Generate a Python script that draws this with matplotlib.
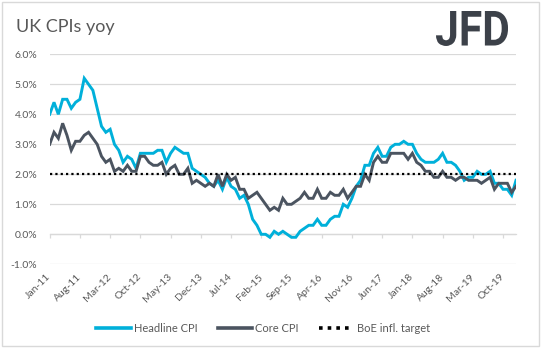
import matplotlib
matplotlib.use('Agg')
import matplotlib.pyplot as plt
import pandas as pd
from matplotlib.textpath import TextPath
from matplotlib.patches import PathPatch, Rectangle
from matplotlib.transforms import Affine2D, IdentityTransform
from matplotlib.font_manager import FontProperties

plt.rcParams['font.family'] = ['Lato', 'DejaVu Sans']

# monthly, Jan-11 .. Jan-20
months = pd.date_range('2011-01-01', '2020-01-01', freq='MS')
headline = [4.0, 4.4, 4.0, 4.5, 4.5, 4.2, 4.4, 4.5, 5.2, 5.0, 4.8, 4.2,
            3.6, 3.4, 3.5, 3.0, 2.8, 2.4, 2.6, 2.5, 2.2, 2.7, 2.7, 2.7,
            2.7, 2.8, 2.8, 2.4, 2.7, 2.9, 2.8, 2.7, 2.7, 2.2, 2.1, 2.0,
            1.9, 1.7, 1.6, 1.8, 1.5, 1.9, 1.6, 1.5, 1.2, 1.3, 1.0, 0.5,
            0.3, 0.0, 0.0, -0.1, 0.1, 0.0, 0.1, 0.0, -0.1, -0.1, 0.1, 0.2,
            0.3, 0.3, 0.5, 0.3, 0.3, 0.5, 0.6, 0.6, 1.0, 0.9, 1.2, 1.6,
            1.8, 2.3, 2.3, 2.7, 2.9, 2.6, 2.6, 2.9, 3.0, 3.0, 3.1, 3.0,
            3.0, 2.7, 2.5, 2.4, 2.4, 2.4, 2.5, 2.7, 2.4, 2.4, 2.3, 2.1,
            1.8, 1.9, 1.9, 2.1, 2.0, 2.0, 2.1, 1.7, 1.7, 1.5, 1.5, 1.3,
            1.8]
core = [3.0, 3.4, 3.2, 3.7, 3.3, 2.8, 3.1, 3.1, 3.3, 3.4, 3.2, 3.0,
        2.6, 2.4, 2.5, 2.1, 2.2, 2.1, 2.3, 2.1, 2.1, 2.6, 2.6, 2.4,
        2.3, 2.3, 2.4, 2.0, 2.2, 2.3, 2.0, 2.0, 2.2, 1.7, 1.8, 1.7,
        1.6, 1.7, 1.6, 2.0, 1.6, 2.0, 1.8, 1.9, 1.5, 1.5, 1.2, 1.3,
        1.4, 1.2, 1.0, 0.8, 0.9, 0.8, 1.2, 1.0, 1.0, 1.1, 1.2, 1.4,
        1.2, 1.2, 1.5, 1.2, 1.2, 1.4, 1.3, 1.3, 1.5, 1.2, 1.4, 1.6,
        1.6, 2.0, 1.8, 2.4, 2.6, 2.4, 2.4, 2.7, 2.7, 2.7, 2.7, 2.5,
        2.7, 2.4, 2.3, 2.1, 2.1, 1.9, 1.9, 2.1, 1.9, 1.9, 1.8, 1.9,
        1.9, 1.8, 1.8, 1.8, 1.7, 1.8, 1.9, 1.5, 1.7, 1.7, 1.7, 1.4,
        1.6]
target = 2.0
yticks = [-1, 0, 1, 2, 3, 4, 5, 6]

x = list(range(len(months)))
labels = [m.strftime('%b-%y') for m in months]
tick_idx = x[::7]

fig = plt.figure(figsize=(5.43, 3.51), dpi=100)
fig.patch.set_facecolor('white')
ax = fig.add_axes([49.7 / 543, 1 - 264.3 / 351, (516 - 49.7) / 543, 210 / 351])

grid_c = '#d9d9d9'
text_c = '#595959'

ax.plot(x, headline, color='#00b0da', lw=2.1, label='Headline CPI', solid_joinstyle='miter', zorder=3)
ax.plot(x, core, color='#4b5460', lw=2.1, label='Core CPI', solid_joinstyle='miter', zorder=3)
ax.plot(x, [target] * len(x), color='black', lw=1.6, linestyle=(0, (1, 1.4)),
        dash_capstyle='butt', label='BoE infl. target', zorder=4)

ax.set_xlim(0, len(x) - 1)
ax.set_ylim(-1, 6)
ax.set_yticks(yticks)
ax.set_yticklabels(['%.1f%%' % v for v in yticks])
ax.yaxis.grid(True, color=grid_c, lw=0.9)
ax.set_axisbelow(True)
for s in ax.spines.values():
    s.set_visible(False)
ax.tick_params(axis='y', length=0, pad=9, labelsize=7.5, labelcolor=text_c)

ax.set_xticks(tick_idx)
ax.set_xticklabels([labels[i] for i in tick_idx], rotation=45, ha='right',
                   va='center', rotation_mode='anchor')
ax.tick_params(axis='x', length=0, pad=8, labelsize=7.5, labelcolor=text_c)

# horizontal axis line with tick marks crossing at 0%
sec = ax.secondary_xaxis(1 / 7)
sec.set_xticks(tick_idx)
sec.tick_params(axis='x', length=3, color=grid_c, width=0.9, labelbottom=False)
sec.spines['bottom'].set_color(grid_c)
sec.spines['bottom'].set_linewidth(0.9)

leg = fig.legend(loc='center', bbox_to_anchor=(263 / 543, 1 - 328 / 351), ncol=3,
                 frameon=False, fontsize=8, handlelength=3.1, handletextpad=0.3,
                 columnspacing=1.8, labelcolor=text_c)
for h in leg.get_lines():
    h.set_linewidth(2.6)

fig.text(16 / 543, 1 - 27 / 351, 'UK CPIs yoy', fontsize=13, color=text_c,
         ha='left', va='center')

# JFD logo
tp = TextPath((0, 0), 'JFD', size=1, prop=FontProperties(family='Roboto', weight='bold'))
bb = tp.get_extents()
tr = Affine2D().translate(-bb.x0, -bb.y0).scale(72 / bb.width, 35 / bb.height).translate(436, 351 - 46)
logo = PathPatch(tr.transform_path(tp), facecolor='#3c4149', edgecolor='none',
                 transform=IdentityTransform())
fig.add_artist(logo)

# outer frame
fig.add_artist(Rectangle((2 / 543, 5 / 351), 537 / 543, 344 / 351, transform=fig.transFigure,
                         fill=False, edgecolor=grid_c, lw=1))

fig.savefig('out.png', dpi=100, facecolor='white')
